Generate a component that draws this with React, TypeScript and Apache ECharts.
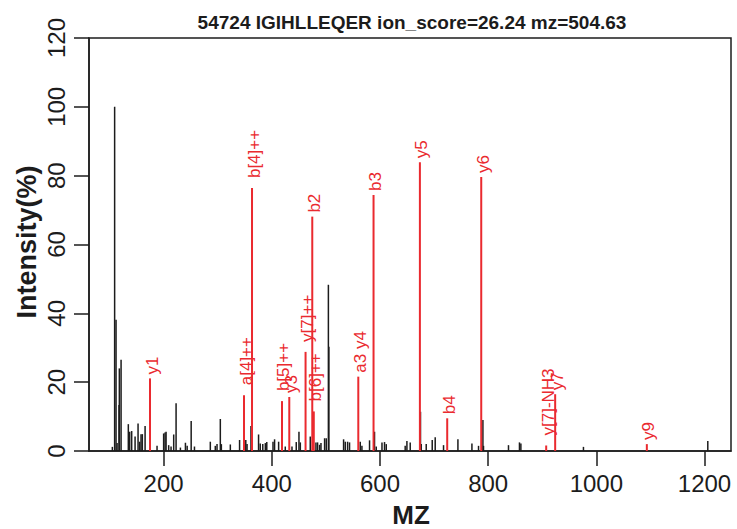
import React, { useEffect, useRef } from "react";
import * as echarts from "echarts";

const titleText = "54724 IGIHLLEQER ion_score=26.24 mz=504.63";
const xName = "MZ";
const yName = "Intensity(%)";

const xTicks = [200, 400, 600, 800, 1000, 1200];
const yTicks = [0, 20, 40, 60, 80, 100, 120];

// unmatched (black) peaks
const blackMz = [
  105.2, 109.4, 112.0, 113.9, 117.5, 118.1, 121.3, 134.7, 137.2, 140.9, 147.2, 152.7, 155.6, 158.2, 160.6, 165.7,
  187.8, 200.0, 202.6, 204.5, 209.3, 213.7, 218.6, 223.0, 231.0, 240.3, 243.5, 250.9, 257.0, 286.3, 295.5, 298.7,
  304.8, 306.7, 323.3, 340.4, 351.9, 354.2, 361.5, 375.5, 378.6, 383.3, 388.0, 390.7, 402.2, 405.1, 412.6, 424.9,
  437.3, 445.2, 450.2, 452.7, 471.1, 481.6, 484.6, 488.3, 490.9, 497.6, 500.7, 504.6, 505.5, 532.7, 535.8, 540.1,
  543.7, 563.5, 566.6, 580.7, 589.9, 593.1, 603.7, 608.4, 611.6, 646.6, 649.8, 655.9, 674.9, 676.2, 685.5, 696.6,
  702.1, 717.5, 744.1, 770.0, 782.2, 790.3, 791.4, 837.6, 857.9, 860.5, 976.2, 1206.1,
];
const blackInt = [
  1.2, 100, 38.1, 2.3, 13.4, 24.0, 26.5, 7.8, 5.6, 5.8, 4.2, 8.0, 2.7, 4.9, 4.9, 7.3,
  1.5, 5.1, 5.4, 5.6, 1.7, 1.3, 4.8, 13.9, 1.0, 2.4, 1.5, 8.7, 1.3, 2.7, 1.5, 2.0,
  9.3, 2.0, 1.9, 3.2, 3.2, 2.0, 7.3, 4.8, 2.2, 2.0, 2.3, 2.6, 2.7, 3.4, 2.7, 1.3,
  1.3, 2.6, 5.6, 2.5, 4.2, 2.5, 2.5, 1.8, 2.3, 3.7, 3.7, 48.3, 30.3, 3.4, 2.7, 2.7,
  2.5, 2.7, 1.5, 3.1, 5.6, 1.3, 2.5, 2.6, 2.0, 1.5, 2.9, 2.5, 11.4, 2.0, 2.0, 3.2,
  4.0, 1.7, 3.4, 2.2, 1.5, 9.0, 1.5, 1.7, 2.5, 2.2, 1.2, 2.9,
];

// matched (red) fragment ions
const ionLabels = [
  "y1", "a[4]++", "b[4]++", "b[5]++", "y3", "y[7]++", "b2", "b[6]++",
  "a3 y4", "b3", "y5", "b4", "y6", "y[7]-NH3", "y7", "y9",
];
const ionMz = [
  174.8, 348.6, 363.4, 418.8, 432.3, 462.4, 474.8, 477.6,
  559.9, 588.1, 673.8, 724.3, 787.2, 907.3, 923.9, 1093.4,
];
const ionInt = [
  21.1, 16.2, 76.4, 14.5, 15.7, 28.8, 68.1, 11.5,
  21.6, 74.4, 83.9, 9.5, 79.6, 1.6, 16.5, 2.0,
];

const INK = "#1c1c1c";
const RED = "#ea2a2f";
const FONT = "'Liberation Sans', Arial, sans-serif";

export default function App() {
  const ref = useRef<HTMLDivElement>(null);

  useEffect(() => {
    if (!ref.current) return;
    const chart = echarts.init(ref.current, undefined, { renderer: "svg" });

    const blackData = blackMz.map((m, i) => [m, blackInt[i]]);
    const redData = ionMz.map((m, i) => [m, ionInt[i], i]);

    chart.setOption({
      animation: false,
      backgroundColor: "#ffffff",
      grid: {
        left: 89,
        right: 6,
        top: 38,
        bottom: 78,
        show: true,
        borderColor: INK,
        borderWidth: 1.5,
        containLabel: false,
      },
      xAxis: {
        type: "value",
        min: 62,
        max: 1249,
        splitLine: { show: false },
        axisLine: { show: true, lineStyle: { color: INK, width: 1.5 } },
        axisTick: {
          show: true,
          customValues: xTicks,
          length: 15,
          lineStyle: { color: INK, width: 1.5 },
        },
        axisLabel: {
          show: true,
          customValues: xTicks,
          formatter: (v: number) => String(v),
          fontSize: 24,
          fontFamily: FONT,
          color: INK,
          margin: 20,
        },
      },
      yAxis: {
        type: "value",
        min: 0,
        max: 120,
        interval: 20,
        splitLine: { show: false },
        axisLine: { show: true, lineStyle: { color: INK, width: 1.5 } },
        axisTick: { show: true, length: 15, lineStyle: { color: INK, width: 1.5 } },
        axisLabel: {
          show: true,
          customValues: yTicks,
          formatter: (v: number) => String(v),
          rotate: 90,
          fontSize: 24,
          fontFamily: FONT,
          color: INK,
          margin: 21,
        },
      },
      graphic: [
        {
          type: "text",
          x: 412,
          y: 22,
          style: {
            text: titleText,
            font: `bold 19px ${FONT}`,
            fill: INK,
            align: "center",
            verticalAlign: "middle",
          },
        },
        {
          type: "text",
          x: 411,
          y: 515,
          style: {
            text: xName,
            font: `bold 26px ${FONT}`,
            fill: INK,
            align: "center",
            verticalAlign: "middle",
          },
        },
        {
          type: "text",
          x: 27,
          y: 242,
          rotation: Math.PI / 2,
          style: {
            text: yName,
            font: `bold 27px ${FONT}`,
            fill: INK,
            align: "center",
            verticalAlign: "middle",
          },
        },
      ],
      series: [
        {
          type: "custom",
          data: blackData,
          clip: true,
          renderItem: (params: any, api: any) => {
            const p0 = api.coord([api.value(0), 0]);
            const p1 = api.coord([api.value(0), api.value(1)]);
            return {
              type: "line",
              shape: { x1: p0[0], y1: p0[1], x2: p1[0], y2: p1[1] },
              style: { stroke: INK, lineWidth: 1.5 },
            };
          },
        },
        {
          type: "custom",
          data: redData,
          clip: false,
          renderItem: (params: any, api: any) => {
            const idx = api.value(2);
            const label = ionLabels[idx];
            const p0 = api.coord([api.value(0), 0]);
            const p1 = api.coord([api.value(0), api.value(1)]);
            const gap = label.indexOf("[") >= 0 ? 10 : 4;
            return {
              type: "group",
              children: [
                {
                  type: "line",
                  shape: { x1: p0[0], y1: p0[1], x2: p1[0], y2: p1[1] },
                  style: { stroke: RED, lineWidth: 2 },
                },
                {
                  type: "text",
                  x: p1[0] + 2,
                  y: p1[1] - gap,
                  rotation: Math.PI / 2,
                  style: {
                    text: label,
                    font: `17px ${FONT}`,
                    fill: RED,
                    align: "left",
                    verticalAlign: "middle",
                  },
                },
              ],
            };
          },
        },
      ],
    });

    return () => chart.dispose();
  }, []);

  return (
    <div
      ref={ref}
      style={{ position: "absolute", left: 0, top: 0, width: 737, height: 529 }}
    />
  );
}
